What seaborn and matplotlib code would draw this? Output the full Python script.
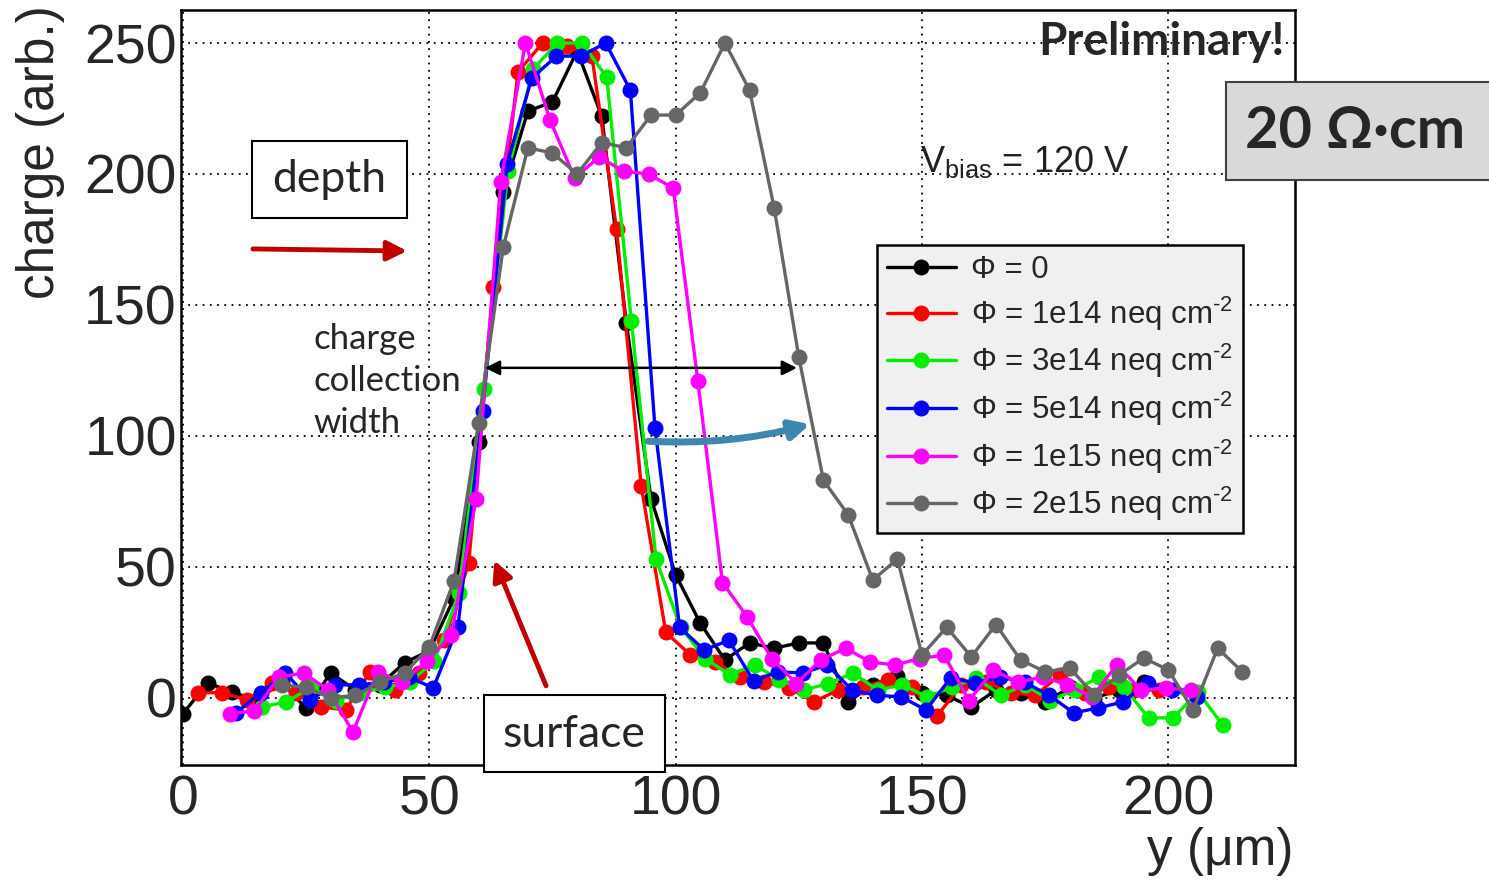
import matplotlib
matplotlib.use("Agg")
import matplotlib.pyplot as plt
import seaborn as sns
import pandas as pd
from matplotlib.patches import Rectangle
from matplotlib.ticker import MultipleLocator

# ---------------- data ----------------
labels = ["Φ = 0",
          "Φ = 1e14 neq cm$^{\\text{-2}}$",
          "Φ = 3e14 neq cm$^{\\text{-2}}$",
          "Φ = 5e14 neq cm$^{\\text{-2}}$",
          "Φ = 1e15 neq cm$^{\\text{-2}}$",
          "Φ = 2e15 neq cm$^{\\text{-2}}$"]
colors = ["#000000", "#ff0000", "#00ee00", "#0000ff", "#ff00ff", "#666666"]

x_black = [0, 5, 10, 15, 20, 25, 30, 35, 40, 45, 50, 55, 60, 65, 70, 75, 80, 85, 90, 95,
           100, 105, 110, 115, 120, 125, 130, 135, 140, 145, 150, 155, 160, 165, 170, 175,
           180, 185, 190, 195]
y_black = [-6, 5.7, 2.3, -1, 6, -4, 9.5, 3, 5, 13.5, 18, 38, 97.7, 193, 224, 227.5, 247, 222, 143, 76,
           47, 28.5, 14.5, 21, 19, 21, 21, -1.5, 5, 8.5, 2, 1, -3.5, 3, 2, -1.5,
           4, 0, 3, 6]

x_red = [3, 8, 13, 18, 23, 28, 33, 38, 43, 48, 53, 58, 63, 68, 73, 78, 83, 88, 93, 98,
         103, 108, 113, 118, 123, 128, 133, 138, 143, 148, 153, 158, 163, 168, 173, 178,
         183, 188, 193, 198]
y_red = [2, 2, -0.8, 5.7, 2, -3.4, -4.6, 10, 3, 9.5, 22, 51.5, 157, 239, 250, 249, 245, 179, 81, 25,
         16.4, 13.7, 8, 6, 3.8, -1.5, 3, 4, 7, 4, -7, 5, 6, 2, 1, 8.8,
         2, 4, 3, 3]

x_green = [16, 21, 26, 31, 36, 41, 46, 51, 56, 61, 66, 71, 76, 81, 86, 91, 96, 101, 106, 111,
           116, 121, 126, 131, 136, 141, 146, 151, 156, 161, 166, 171, 176, 181, 186, 191,
           196, 201, 206, 211]
y_green = [-3.4, -1.5, 4, -1, 2, 4, 6, 14, 40, 118, 201, 240, 250, 250, 237, 144, 53, 27, 15, 8.8,
           12.6, 7, 3, 5.5, 9.5, 3, 5, 0.4, 4, 7.6, 1.1, 5, -1, 3, 8, 4,
           -7.6, -7.6, 2.3, -10.3]

x_blue = [10.8, 15.8, 20.8, 25.8, 30.8, 35.8, 40.8, 45.8, 50.8, 55.8, 60.8, 65.8, 70.8, 75.8,
          80.8, 85.8, 90.8, 95.8, 100.8, 105.8, 110.8, 115.8, 120.8, 125.8, 130.8, 135.8,
          140.8, 145.8, 150.8, 155.8, 160.8, 165.8, 170.8, 175.8, 180.8, 185.8, 190.8,
          195.8, 200.8, 205.8]
y_blue = [-5.7, 2, 9.5, -0.8, 5, 5, 6, 8, 3.8, 27, 109.5, 204, 236.6, 245,
          245, 250, 232, 103, 27, 18.3, 22, 6.5, 10, 9.5, 12.6, 3,
          1, 0.4, -4.6, 7.6, 5.7, 8, 6, 1, -5.7, -3.8, -1.5,
          5.7, 3, 0.4]

x_magenta = [9.5, 14.5, 19.5, 24.5, 29.5, 34.5, 39.5, 44.5, 49.5, 54.5, 59.5, 64.5, 69.5,
             74.5, 79.5, 84.5, 89.5, 94.5, 99.5, 104.5, 109.5, 114.5, 119.5, 124.5, 129.5,
             134.5, 139.5, 144.5, 149.5, 154.5, 159.5, 164.5, 169.5, 174.5, 179.5, 184.5,
             189.5, 194.5, 199.5, 204.5]
y_magenta = [-6, -5, 8, 9.5, 3, -13, 10, 6, 14, 24, 76, 197, 250,
             220.6, 198.5, 206.5, 201, 200, 194.6, 121, 44, 31, 15, 5.5, 14.5,
             19, 13.7, 12.6, 15, 16.4, -1, 10.5, 6, 8, 5, 0.4,
             12.6, 3, 3.8, 3]

x_gray = [20, 25, 30, 35, 40, 45, 50, 55, 60, 65, 70, 75, 80, 85, 90, 95, 100, 105, 110, 115,
          120, 125, 130, 135, 140, 145, 150, 155, 160, 165, 170, 175, 180, 185, 190, 195,
          200, 205, 210, 215]
y_gray = [5, 4, 0, 1, 6, 9.5, 19.5, 44.6, 105, 172, 210, 208, 200, 212, 210, 222.5, 222.5, 231, 250, 232,
          187, 130, 83, 70, 45, 53, 16.4, 27, 15.7, 28, 14.5, 10, 11.4, 1, 8.8, 15.2,
          10.7, -4.6, 19, 10]

series_x = [x_black, x_red, x_green, x_blue, x_magenta, x_gray]
series_y = [y_black, y_red, y_green, y_blue, y_magenta, y_gray]

x_ticks = [0, 50, 100, 150, 200]
y_ticks = [0, 50, 100, 150, 200, 250]

# ---------------- style ----------------
sns.set_style("white")
plt.rcParams["font.family"] = ["Liberation Sans", "DejaVu Sans"]
plt.rcParams["mathtext.fontset"] = "custom"
plt.rcParams["mathtext.rm"] = "Liberation Sans"
plt.rcParams["mathtext.it"] = "Liberation Sans:italic"
plt.rcParams["mathtext.bf"] = "Liberation Sans:bold"

W, H = 1489, 881
fig = plt.figure(figsize=(W / 100, H / 100), dpi=100)
ax = fig.add_axes([181 / W, 1 - 765 / H, (1295 - 181) / W, (765 - 10) / H])

for xs, ys, lab, col in zip(series_x, series_y, labels, colors):
    df = pd.DataFrame({"y_um": xs, "charge": ys})
    sns.lineplot(data=df, x="y_um", y="charge", ax=ax, color=col, lw=2.4,
                 marker="o", markersize=11.5, markeredgewidth=0, label=lab,
                 sort=False, estimator=None)

ax.set_xlim(-0.4, 225.7)
ax.set_ylim(-25.6, 262.6)
ax.set_xticks(x_ticks)
ax.set_yticks(y_ticks)
ax.xaxis.set_minor_locator(MultipleLocator(10))
ax.yaxis.set_minor_locator(MultipleLocator(10))
ax.tick_params(which="major", direction="in", length=17, width=1.5, labelsize=40, pad=7)
ax.tick_params(which="minor", direction="in", length=9, width=1.5)
ax.tick_params(axis="y", which="major", pad=3)
ax.grid(True, which="major", color="black", linestyle=(0, (1, 3)), lw=1.3)
ax.set_axisbelow(True)
for s in ax.spines.values():
    s.set_linewidth(1.8)
    s.set_color("black")

ax.set_xlabel("y (μm)", fontsize=37, loc="right")
ax.xaxis.set_label_coords((1293 - 181) / 1114, (765 - 852) / 755)
ax.xaxis.label.set_verticalalignment("center")
ax.set_ylabel("charge (arb.)", fontsize=37, loc="top")
ax.yaxis.set_label_coords((40 - 181) / 1114, 1 + 5 / 755)
ax.yaxis.label.set_verticalalignment("center")

leg = ax.legend(loc="upper left", bbox_to_anchor=(877 / W, 1 - 245 / H),
                bbox_transform=fig.transFigure, borderaxespad=0, fontsize=22.5,
                frameon=True, fancybox=False, framealpha=1, facecolor="#f0f0f0",
                edgecolor="black", handlelength=2.2, handletextpad=0.5,
                labelspacing=0.3, borderpad=0.32)
leg.get_frame().set_linewidth(1.8)

# ---------------- annotations ----------------
ann_font = ["Lato", "Open Sans", "DejaVu Sans"]
# depth box
ax.add_patch(Rectangle((14.0, 183.2), 31.5, 29.4, facecolor="white", edgecolor="black",
                       lw=1.5, zorder=10, clip_on=False))
ax.text(29.7, 197.9, "depth", fontsize=32, family=ann_font, ha="center", va="center", zorder=11)
ax.annotate("", xy=(45.5, 170.6), xytext=(14.2, 171.4),
            arrowprops=dict(arrowstyle="-|>", lw=3.5, color="#c00000", mutation_scale=30,
                            shrinkA=0, shrinkB=0), zorder=11)
# surface box
ax.add_patch(Rectangle((61.1, -28.2), 36.7, 29.3, facecolor="white", edgecolor="black",
                       lw=1.5, zorder=10, clip_on=False))
ax.text(79.4, -13.8, "surface", fontsize=32, family=ann_font, ha="center", va="center",
        zorder=11, clip_on=False)
ax.annotate("", xy=(63.2, 52.5), xytext=(73.7, 4.6),
            arrowprops=dict(arrowstyle="-|>", lw=3.5, color="#c00000", mutation_scale=30,
                            shrinkA=0, shrinkB=0), zorder=11)
# charge collection width
ax.text(26.4, 121, "charge\ncollection\nwidth", fontsize=25, family=ann_font,
        ha="left", va="center", linespacing=1.4, zorder=11)
ax.annotate("", xy=(61.3, 126), xytext=(124.6, 126),
            arrowprops=dict(arrowstyle="<|-|>", lw=1.8, color="black", mutation_scale=22,
                            shrinkA=0, shrinkB=0), zorder=11)
ax.annotate("", xy=(127.3, 104.5), xytext=(94.4, 98),
            arrowprops=dict(arrowstyle="-|>", lw=5, color="#3f87ae", mutation_scale=28,
                            shrinkA=0, shrinkB=0, connectionstyle="arc3,rad=0.08"), zorder=11)

# texts at top right
fig.text(1285 / W, 1 - 42 / H, "Preliminary!", fontsize=33, fontweight="bold",
         family=ann_font, ha="right", va="center")
fig.text(920 / W, 1 - 172 / H, "V$_{\\mathrm{bias}}$ = 120 V", fontsize=26,
         color="#222222", ha="left", va="baseline")
fig.add_artist(Rectangle((1226 / W, 1 - 180 / H), (W - 1226) / W + 0.01, 98 / H,
                         transform=fig.transFigure, facecolor="#d9d9d9",
                         edgecolor="#404040", lw=1.5))
fig.text(1355 / W, 1 - 131 / H, "20 Ω·cm", fontsize=41.5, fontweight="bold",
         family=ann_font, ha="center", va="center")

fig.savefig("out.png", dpi=100, facecolor="white")
